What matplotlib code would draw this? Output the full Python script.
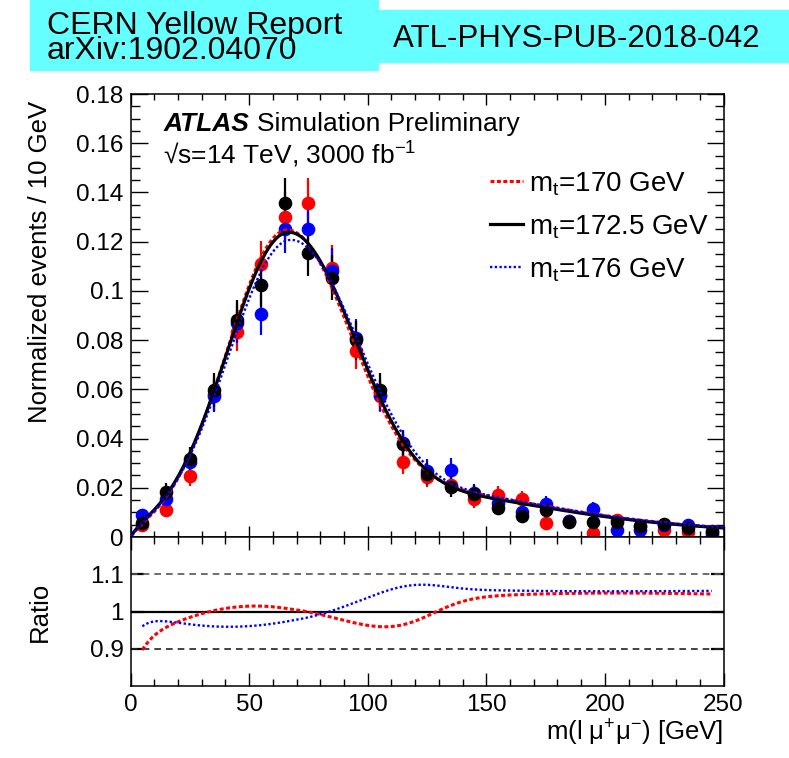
import numpy as np
import matplotlib
matplotlib.use("Agg")
import matplotlib.pyplot as plt
from matplotlib.patches import Rectangle
from matplotlib.ticker import MultipleLocator, FixedLocator, FuncFormatter

plt.rcParams.update({
    "font.family": ["Liberation Sans", "DejaVu Sans"],
    "mathtext.fontset": "custom",
    "mathtext.rm": "Liberation Sans",
    "mathtext.it": "Liberation Sans:italic",
    "mathtext.bf": "Liberation Sans:bold",
})

# ---- data: normalized m(l mu+ mu-) distributions, 10 GeV bins ----
bin_centers = np.arange(5, 250, 10)

events_170 = [0.0050, 0.0110, 0.0249, 0.0580, 0.0834, 0.1110, 0.1300, 0.1356,
              0.1094, 0.0757, 0.0573, 0.0306, 0.0245, 0.0210, 0.0153, 0.0171,
              0.0153, 0.0058, 0.0066, 0.0015, 0.0069, 0.0045, 0.0028, 0.0022,
              0.0020]
events_172 = [0.0057, 0.0183, 0.0317, 0.0597, 0.0882, 0.1023, 0.1356, 0.1155,
              0.1054, 0.0799, 0.0597, 0.0378, 0.0255, 0.0204, 0.0173, 0.0119,
              0.0085, 0.0110, 0.0060, 0.0062, 0.0062, 0.0045, 0.0053, 0.0035,
              0.0026]
events_176 = [0.0089, 0.0155, 0.0303, 0.0573, 0.0870, 0.0906, 0.1250, 0.1250,
              0.1082, 0.0807, 0.0577, 0.0380, 0.0270, 0.0274, 0.0178, 0.0137,
              0.0103, 0.0133, 0.0065, 0.0112, 0.0028, 0.0028, 0.0050, 0.0049,
              0.0011]

# number of simulated events behind each normalized histogram (Poisson errors)
n_events = 1300

# fitted template parameters:
# norm, peak, sigma_left, sigma_right, tail_norm, tail_slope, tail_onset, onset_width, turn_on
fit_170 = [0.12228, 65.584, 25.081, 28.037, 0.25471, 59.576, 129.47, 18.195, 3.2189]
fit_172 = [0.12267, 66.443, 25.844, 29.110, 0.23451, 60.102, 133.69, 16.018, 2.8956]
fit_176 = [0.11992, 67.375, 26.323, 30.143, 0.24480, 60.260, 136.83, 15.085, 3.1425]

legend_labels = [r"m$_{\mathregular{t}}$=170 GeV",
                 r"m$_{\mathregular{t}}$=172.5 GeV",
                 r"m$_{\mathregular{t}}$=176 GeV"]


def template(x, p):
    A, mu, sl, sr, B, tau, x0, w, c = p
    s = np.where(x < mu, sl, sr)
    core = A * np.exp(-0.5 * ((x - mu) / s) ** 2)
    tail = B * np.exp(-x / tau) / (1 + np.exp(-(x - x0) / w))
    return (1 - np.exp(-x / c)) * (core + tail)


W, H = 789, 758
fig = plt.figure(figsize=(W / 100, H / 100), dpi=100)

# ---- header boxes ----
cyan = "#66ffff"
fig.patches.append(Rectangle((30 / W, 1 - 70 / H), 348 / W, 70 / H,
                             transform=fig.transFigure, color=cyan, zorder=0))
fig.patches.append(Rectangle((378 / W, 1 - 62 / H), 411 / W, 52 / H,
                             transform=fig.transFigure, color=cyan, zorder=0))
fig.text(47 / W, 1 - 11 / H, "CERN Yellow Report\narXiv:1902.04070", fontsize=23,
         va="top", linespacing=0.8)
fig.text(393 / W, 1 - 47 / H, "ATL-PHYS-PUB-2018-042", fontsize=22.5, va="baseline")

left, right = 130.5, 723.5
ax = fig.add_axes([left / W, 1 - 537 / H, (right - left) / W, (537 - 94) / H])
axr = fig.add_axes([left / W, 1 - 686 / H, (right - left) / W, (686 - 537) / H])

xs = np.array(bin_centers, float)
colors = {"170": "#ff0000", "172": "#000000", "176": "#0000ff"}
series = [("170", events_170), ("176", events_176), ("172", events_172)]
for key, vals in series:
    v = np.array(vals)
    err = np.sqrt(v / n_events)
    ax.errorbar(xs, v, yerr=err, fmt="o", color=colors[key], ms=8.8,
                elinewidth=1.6, capsize=0, zorder=3)

xx = np.linspace(0.3, 250, 600)
f170 = template(xx, fit_170)
f172 = template(xx, fit_172)
f176 = template(xx, fit_176)
l1, = ax.plot(xx, f170, color=colors["170"], lw=2.2, ls=(0, (1.3, 0.8)), zorder=4)
l2, = ax.plot(xx, f172, color=colors["172"], lw=2.3, zorder=5)
l3, = ax.plot(xx, f176, color=colors["176"], lw=1.7, ls=(0, (1.0, 1.0)), zorder=6)

ax.set_xlim(0, 250)
ax.set_ylim(0, 0.18)
ax.yaxis.set_major_locator(MultipleLocator(0.02))
ax.yaxis.set_minor_locator(MultipleLocator(0.005))
ax.xaxis.set_major_locator(MultipleLocator(50))
ax.xaxis.set_minor_locator(MultipleLocator(10))
ax.yaxis.set_major_formatter(FuncFormatter(lambda v, _: "0" if abs(v) < 1e-9 else f"{v:g}"))
ax.tick_params(axis="x", which="both", labelbottom=False)
ax.tick_params(which="both", direction="in", top=True, right=True, width=1.0)
ax.tick_params(axis="y", which="major", length=12, labelsize=17.5, pad=5)
ax.tick_params(axis="y", which="minor", length=6.5)
ax.tick_params(axis="x", which="major", length=8)
ax.tick_params(axis="x", which="minor", length=4)
for s in ax.spines.values():
    s.set_linewidth(1.1)
ax.set_ylabel("Normalized events / 10 GeV", fontsize=18.5)
ax.yaxis.set_label_coords(-0.133, 0.62)

ax.text(0.055, 0.9165, "ATLAS", transform=ax.transAxes, fontsize=19,
        fontweight="bold", fontstyle="italic", va="baseline")
ax.text(0.213, 0.9165, "Simulation Preliminary", transform=ax.transAxes,
        fontsize=19, va="baseline")
ax.text(0.055, 0.842, r"√s=14 TeV, 3000 fb$^{\mathregular{-1}}$",
        transform=ax.transAxes, fontsize=19, va="baseline")

leg = ax.legend([l1, l2, l3], legend_labels, loc="upper left",
                bbox_to_anchor=((490 - left) / (right - left), (537 - 170) / 443),
                frameon=False, fontsize=20, handlelength=1.2, handletextpad=0.2,
                labelspacing=0.56, borderpad=0, borderaxespad=0)

# ---- ratio panel ----
xr_ = np.linspace(5, 245, 500)
axr.axhline(1.1, color="#555555", lw=1.2, ls=(0, (4, 3)))
axr.axhline(0.9, color="#222222", lw=1.2, ls=(0, (4, 3)))
axr.axhline(1.0, color="black", lw=1.6)
axr.plot(xr_, template(xr_, fit_170) / template(xr_, fit_172),
         color=colors["170"], lw=2.2, ls=(0, (1.3, 0.8)))
axr.plot(xr_, template(xr_, fit_176) / template(xr_, fit_172),
         color=colors["176"], lw=1.7, ls=(0, (1.0, 1.0)))
axr.set_xlim(0, 250)
axr.set_ylim(0.8, 1.2)
axr.yaxis.set_major_locator(FixedLocator([0.9, 1.0, 1.1]))
axr.yaxis.set_major_formatter(FuncFormatter(lambda v, _: f"{v:g}"))
axr.xaxis.set_major_locator(MultipleLocator(50))
axr.xaxis.set_minor_locator(MultipleLocator(10))
axr.tick_params(which="both", direction="in", top=True, right=True, width=1.0)
axr.tick_params(axis="y", which="major", length=9.5, width=1.6, labelsize=17.5, pad=5)
axr.tick_params(axis="x", which="major", length=9.5, labelsize=17.5, pad=6)
axr.tick_params(axis="x", which="minor", length=5)
for s in axr.spines.values():
    s.set_linewidth(1.1)
axr.set_ylabel("Ratio", fontsize=18.5)
axr.yaxis.set_label_coords(-0.133, 0.5)
axr.set_xlabel(r"m(l μ$^{\mathregular{+}}$μ$^{\mathregular{-}}$) [GeV]", fontsize=18.5)
axr.xaxis.set_label_coords(1.0, -0.215)
axr.xaxis.label.set_horizontalalignment("right")

fig.savefig("out.png", dpi=100)
